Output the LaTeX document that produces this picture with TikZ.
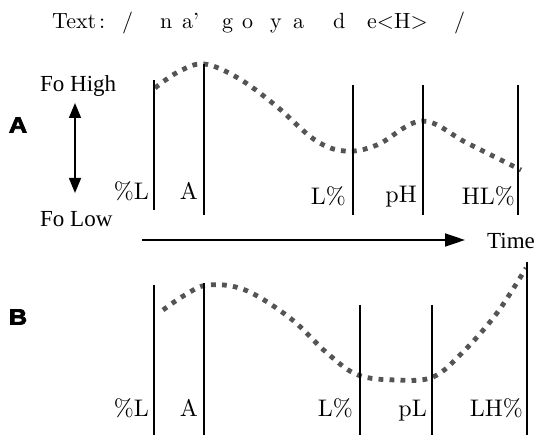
\documentclass[tikz,border=0pt]{standalone}
\usepackage{fontspec}
\usepackage{graphicx}
\usetikzlibrary{arrows.meta}
\setmainfont{lmroman10-regular.otf}[BoldFont=lmroman10-bold.otf]
\newfontfamily\axisfont{Liberation Serif}
\newfontfamily\panelfont{Liberation Sans}[BoldFeatures={FakeBold=3.5,FakeStretch=1.15}]

\tikzset{
  boundary/.style={line width=1.8pt},
  contour/.style={line width=4.8pt, color=black!67, dash pattern=on 4.8pt off 6.2pt},
  tone/.style={font=\fontsize{24}{28}\selectfont, inner sep=0pt, anchor=base east},
  seg/.style={font=\fontsize{22}{25}\selectfont, inner sep=0pt, anchor=base west},
  axislabel/.style={font=\axisfont\fontsize{23}{26}\selectfont, inner sep=0pt, anchor=base west},
  panel/.style={font=\panelfont\bfseries\fontsize{22}{25}\selectfont, inner sep=0pt}
}

\begin{document}
\begin{tikzpicture}[x=1pt,y=-1pt]
\useasboundingbox (0,0) rectangle (536,435);

% transcription line
\node[seg] (txt) at (52,29) {Text};
\node[seg] (colon) at (99,29) {:};
\node[seg] (sl1) at (122,29) {/};
\node[seg] (n) at (160,29) {n};
\node[seg] (a1) at (182,29) {a'};
\node[seg] (g) at (222,29) {g};
\node[seg] (o) at (242,29) {o};
\node[seg] (y) at (270,29) {y};
\node[seg] (a2) at (293,29) {a};
\node[seg] (d) at (333,29) {d};
\node[seg] (e) at (367,29) {e<H>};
\node[seg] (sl2) at (454,29) {/};

% panel A
\node[panel] (pa) at (18,125) {A};
\node[axislabel] (hi) at (40,92) {Fo High};
\node[axislabel] (lo) at (40,227) {Fo Low};
\coordinate (fotop) at (75,103);
\coordinate (fobot) at (75,193);
\draw[line width=1.5pt, {Triangle[length=15pt,width=12pt]}-{Triangle[length=15pt,width=12pt]}]
  (fotop) -- (fobot);

\draw[contour] plot[smooth, tension=0.6] coordinates {
  (155,88) (178,72) (204,64) (238,78) (275,105) (315,140) (345,151)
  (377,145) (422,121) (467,143) (521,170)};

\foreach \x/\t/\b in {154/80/210, 204/64/215, 353/85/215, 423/85/215, 518/85/215}
  \draw[boundary] (\x,\t) -- (\x,\b);

\node[tone] (aL) at (149,200) {\%L};
\node[tone] (aA) at (198,200) {A};
\node[tone] (aLp) at (346,205) {L\%};
\node[tone] (apH) at (417,203) {pH};
\node[tone] (aHL) at (515,205) {HL\%};

% time axis
\coordinate (t0) at (142,240);
\coordinate (t1) at (465,240);
\draw[line width=1.8pt, -{Triangle[length=20pt,width=13pt]}] (t0) -- (t1);
\node[axislabel] (time) at (487,249) {Time};

% panel B
\node[panel] (pb) at (18,317) {B};

\draw[contour] plot[smooth, tension=0.6] coordinates {
  (163,310) (185,295) (208,285) (245,290) (290,318) (327,353) (358,375)
  (397,380) (433,377) (463,352) (497,313) (526,268)};

\foreach \x/\t in {154/285, 204/283, 360/305, 432/305, 527/262}
  \draw[boundary] (\x,\t) -- (\x,435);

\node[tone] (bL) at (149,417) {\%L};
\node[tone] (bA) at (198,417) {A};
\node[tone] (bLp) at (353,417) {L\%};
\node[tone] (bpL) at (427,417) {pL};
\node[tone] (bLH) at (523,417) {LH\%};
\end{tikzpicture}
\end{document}
